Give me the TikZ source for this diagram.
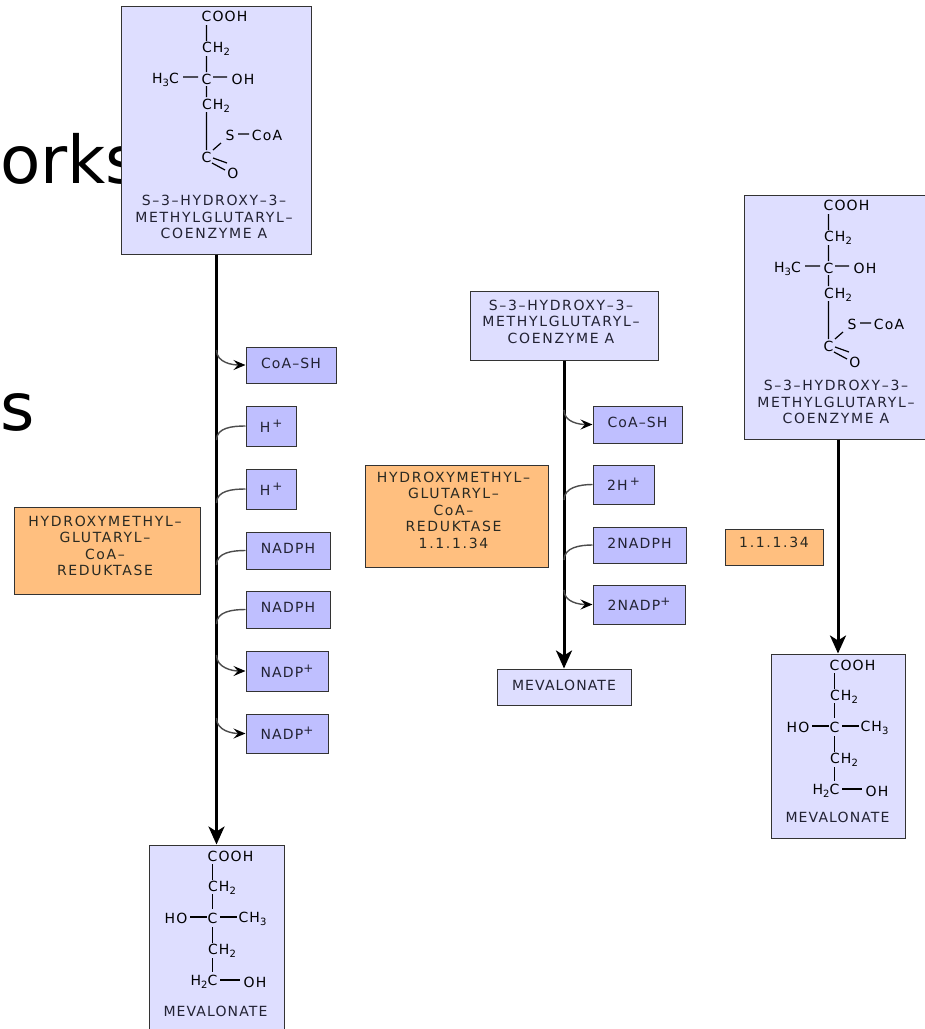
\documentclass[tikz,border=0pt]{standalone}
\usepackage{fontspec}
\setmainfont{DejaVu Sans}
\newfontfamily\lab[LetterSpace=8]{DejaVu Sans}
\newfontfamily\labw[LetterSpace=12]{DejaVu Sans}
\usetikzlibrary{arrows.meta}
\definecolor{paleblue}{HTML}{DEDEFF}
\definecolor{midblue}{HTML}{BFBFFF}
\definecolor{orangebox}{HTML}{FFBF7F}
\definecolor{inkdark}{HTML}{222233}
\definecolor{inkbrown}{HTML}{2A2A22}
\tikzset{
  x=1pt,y=-1pt,
  boxstyle/.style={draw=black!80,line width=1pt,inner sep=0pt,align=center,text=inkdark,font=\lab\fontsize{14}{16.5}\selectfont},
  pale/.style={boxstyle,fill=paleblue},
  cof/.style={boxstyle,fill=midblue},
  enz/.style={boxstyle,fill=orangebox},
  caption/.style={inner sep=0pt,align=center,text=inkdark,font=\labw\fontsize{14}{16.5}\selectfont},
  enzcaption/.style={caption,text=inkbrown},
  atom/.style={inner sep=0pt,text=black,font=\lab\fontsize{14}{15}\selectfont},
  bond/.style={line width=1.2pt,black},
  mainflow/.style={line width=3pt,black,-{Stealth[length=18pt,width=16pt,inset=5pt]}},
  branch/.style={line width=1.4pt,black!70},
  product/.style={branch,-{Stealth[length=12pt,width=10pt,inset=4.5pt,black]}},
  bigtext/.style={inner sep=0pt,text=black,font=\fontsize{66}{66}\selectfont,anchor=base west}
}
% box by its corners: name, style, x1, y1, x2, y2, text, raise
\newcommand{\bx}[8]{%
  \pgfmathsetmacro{\bxw}{#5-#3}\pgfmathsetmacro{\bxh}{#6-#4}%
  \pgfmathsetmacro{\bxx}{(#3+#5)/2}\pgfmathsetmacro{\bxy}{(#4+#6)/2}%
  \node[#2,minimum width=\bxw pt,minimum height=\bxh pt] (#1) at (\bxx,\bxy) {\raisebox{#8pt}{#7}};}
\newcommand{\sbs}[1]{\raisebox{-3pt}{\fontsize{10}{10}\selectfont #1}}
\newcommand{\sps}[1]{\raisebox{5pt}{\fontsize{12}{12}\selectfont #1}}
\newcommand{\hmgmol}[3]{%
 \begin{scope}[shift={(#2,#3)}]
  \node[atom] (#1-cooh) at (224.5,16.5) {COOH};
  \node[atom] (#1-ch2a) at (216,49) {CH\sbs{2}};
  \node[atom] (#1-c) at (206.5,79) {C};
  \node[atom] (#1-h3c) at (165.5,80) {H\sbs{3}C};
  \node[atom] (#1-oh) at (243,79) {OH};
  \node[atom] (#1-ch2b) at (216,106) {CH\sbs{2}};
  \node[atom] (#1-s) at (230,135) {S};
  \node[atom] (#1-coa) at (267,135) {CoA};
  \node[atom] (#1-cc) at (206.5,157) {C};
  \node[atom] (#1-o) at (233,173) {O};
  \draw[bond] (206.5,25)--(206.5,41) (206.5,56)--(206.5,72) (183,77)--(198,77) (213,77)--(227,77)
    (206.5,86)--(206.5,97) (206.5,112)--(206.5,150) (213,150)--(221,143) (238,134)--(249,134)
    (213,158)--(227,163) (212,163)--(225,170);
 \end{scope}}
\newcommand{\mevmol}[3]{%
 \begin{scope}[shift={(#2,#3)}]
  \node[atom] (#1-cooh) at (230.5,856) {COOH};
  \node[atom] (#1-ch2a) at (222,888) {CH\sbs{2}};
  \node[atom] (#1-c) at (212.5,918) {C};
  \node[atom] (#1-ho) at (176,918) {HO};
  \node[atom] (#1-ch3) at (252.5,919) {CH\sbs{3}};
  \node[atom] (#1-ch2b) at (222,951) {CH\sbs{2}};
  \node[atom] (#1-h2c) at (204,982) {H\sbs{2}C};
  \node[atom] (#1-oh) at (255,982) {OH};
  \draw[bond] (212.5,864)--(212.5,880) (212.5,894)--(212.5,909) (190,917)--(207,917) (220,917)--(237,917)
    (212.5,927)--(212.5,943) (212.5,958)--(212.5,972) (220,980)--(240,980);
 \end{scope}}
\begin{document}
\begin{tikzpicture}
\clip (0,0) rectangle (925,1029);
\fill[white] (0,0) rectangle (925,1029);
\node[bigtext] (bga) at (0,183) {orks};
\node[bigtext] (bgb) at (0,430) {s};

% left pathway
\bx{hmgl}{pale}{121}{6}{311}{254}{}{0}
\node[caption] (hmgltxt) at (214,217) {S–3–HYDROXY–3–\\METHYLGLUTARYL–\\COENZYME A};
\hmgmol{la}{0}{0}
\bx{mevl}{pale}{149}{845}{284}{1040}{}{0}
\node[boxstyle,draw=none] (mevltxt) at (215.5,1011) {MEVALONATE};
\mevmol{lb}{0}{0}
\bx{c1}{cof}{246}{347}{336}{383}{CoA–SH}{4}
\bx{c2}{cof}{246}{406}{296.5}{446}{H\hspace{2pt}\sps{+}}{0}
\bx{c3}{cof}{246}{469}{296.5}{509}{H\hspace{2pt}\sps{+}}{0}
\bx{c4}{cof}{246}{532}{330}{569}{NADPH}{4}
\bx{c5}{cof}{246}{591}{330}{628}{NADPH}{4}
\bx{c6}{cof}{246}{651}{328}{691}{NADP\sps{+}}{0}
\bx{c7}{cof}{246}{714}{328}{753}{NADP\sps{+}}{0}
\bx{el}{enz}{14}{507}{200}{594}{}{0}
\node[enzcaption] (eltxt) at (105,546) {HYDROXYMETHYL–\\GLUTARYL–\\CoA–\\REDUKTASE};
\draw[mainflow] (hmgl.south -| 216.5,0) -- (mevl.north -| 216.5,0);
\coordinate (m1) at (216.5,350);
\coordinate (m2) at (216.5,440);
\coordinate (m3) at (216.5,503);
\coordinate (m4) at (216.5,565);
\coordinate (m5) at (216.5,624);
\coordinate (m6) at (216.5,655);
\coordinate (m7) at (216.5,718);
\draw[product] (m1) to[out=-90,in=180] (c1.west);
\draw[branch] (c2.west) to[out=180,in=90] (m2);
\draw[branch] (c3.west) to[out=180,in=90] (m3);
\draw[branch] (c4.west) to[out=180,in=90] (m4);
\draw[branch] (c5.west) to[out=180,in=90] (m5);
\draw[product] (m6) to[out=-90,in=180] (c6.west);
\draw[product] (m7) to[out=-90,in=180] (c7.west);

% middle pathway
\bx{hmgm}{pale}{470}{291}{658}{360}{}{0}
\node[caption] (hmgmtxt) at (561,321.5) {S–3–HYDROXY–3–\\METHYLGLUTARYL–\\COENZYME A};
\bx{mevm}{pale}{497}{669}{631}{705}{MEVALONATE}{4}
\bx{d1}{cof}{593}{406}{682}{443}{CoA–SH}{4}
\bx{d2}{cof}{593}{465}{654}{504}{2H\hspace{2pt}\sps{+}}{0}
\bx{d3}{cof}{593}{527}{686}{563}{2NADPH}{4}
\bx{d4}{cof}{593}{585}{685}{624}{2NADP\sps{+}}{0}
\bx{em}{enz}{365}{465}{548}{567}{}{0}
\node[enzcaption] (emtxt) at (453.5,510) {HYDROXYMETHYL–\\GLUTARYL–\\CoA–\\REDUKTASE\\1.1.1.34};
\draw[mainflow] (hmgm) -- (mevm);
\coordinate (n1) at (564,410);
\coordinate (n2) at (564,500);
\coordinate (n3) at (564,560);
\coordinate (n4) at (564,590);
\draw[product] (n1) to[out=-90,in=180] (d1.west);
\draw[branch] (d2.west) to[out=180,in=90] (n2);
\draw[branch] (d3.west) to[out=180,in=90] (n3);
\draw[product] (n4) to[out=-90,in=180] (d4.west);

% right pathway
\bx{hmgr}{pale}{744}{195}{934}{439}{}{0}
\node[caption] (hmgrtxt) at (836,402) {S–3–HYDROXY–3–\\METHYLGLUTARYL–\\COENZYME A};
\hmgmol{ra}{622}{189}
\bx{mevr}{pale}{771}{654}{905}{838}{}{0}
\node[boxstyle,draw=none] (mevrtxt) at (837.5,817) {MEVALONATE};
\mevmol{rb}{622}{-191}
\bx{er}{enz}{725}{529}{823}{565}{}{0}
\node[enzcaption] (ertxt) at (774,542) {1.1.1.34};
\draw[mainflow] (hmgr.south -| 838,0) -- (mevr.north -| 838,0);
\end{tikzpicture}
\end{document}
